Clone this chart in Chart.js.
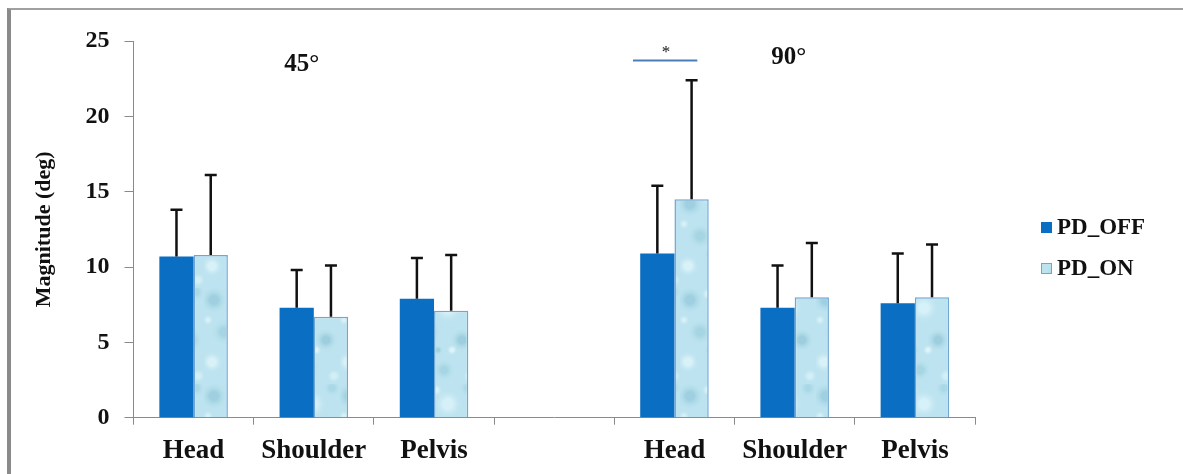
<!DOCTYPE html>
<html>
<head>
<meta charset="UTF-8">
<title>Magnitude (deg)</title>
<script src="https://cdn.jsdelivr.net/npm/chart.js@4"></script>
<style>
  html, body { margin: 0; padding: 0; background: #fff; }
  #wrap { position: relative; width: 1183px; height: 474px; overflow: hidden; }
  #frame { position: absolute; left: 7px; top: 8px; right: -10px; bottom: -10px;
           border-left: 4px solid #8a8a8a; border-top: 2px solid #a0a0a0; }
  #chart { position: absolute; left: 0; top: 0; }
</style>
</head>
<body>
<div id="wrap">
  <div id="frame"></div>
  <canvas id="chart" width="1183" height="474"></canvas>
</div>
<script>
// groups: 45° (first three) and 90° (last three), with an empty slot between
const categories = ['Head', 'Shoulder', 'Pelvis', '', 'Head', 'Shoulder', 'Pelvis'];
const pdOff = [10.7, 7.3, 7.9, null, 10.9, 7.3, 7.6];
const pdOn  = [10.8, 6.7, 7.1, null, 14.5, 8.0, 8.0];
const sdOff = [3.1, 2.5, 2.7, null, 4.5, 2.8, 3.3];
const sdOn  = [5.3, 3.4, 3.7, null, 7.9, 3.6, 3.5];
const yMin = 0, yMax = 25, yStep = 5;

const SERIF = "'Liberation Serif', 'Times New Roman', serif";
const offColor = '#0a6fc2';
const onBorder = '#6fa6d4';

// light blue "water droplet" fill for the PD_ON bars
function makeWaterPattern() {
  const c = document.createElement('canvas');
  c.width = 68; c.height = 96;
  const g = c.getContext('2d');
  g.fillStyle = '#bce3ef';
  g.fillRect(0, 0, c.width, c.height);
  const blobs = [
    [10, 12, 14, 'rgba(135,192,212,0.55)'], [40, 20, 16, 'rgba(222,245,251,0.75)'],
    [20, 44, 13, 'rgba(145,198,216,0.5)'], [54, 52, 12, 'rgba(128,186,206,0.5)'],
    [8, 74, 12, 'rgba(226,246,251,0.75)'], [36, 82, 11, 'rgba(140,196,214,0.45)'],
    [60, 4, 9, 'rgba(148,202,220,0.45)'], [28, 6, 7, 'rgba(230,248,252,0.7)'],
    [62, 88, 8, 'rgba(220,244,250,0.7)'], [44, 62, 6, 'rgba(235,250,253,0.7)'],
    [4, 32, 6, 'rgba(230,248,252,0.6)'], [30, 62, 5, 'rgba(120,180,200,0.4)']
  ];
  blobs.forEach(([x, y, r, col]) => {
    const rg = g.createRadialGradient(x, y, r * 0.3, x, y, r);
    rg.addColorStop(0, col);
    rg.addColorStop(1, 'rgba(188,227,239,0)');
    g.fillStyle = rg;
    g.beginPath(); g.arc(x, y, r, 0, Math.PI * 2); g.fill();
  });
  return g.createPattern(c, 'repeat');
}

const ctx = document.getElementById('chart').getContext('2d');
const onFill = makeWaterPattern();

// upper error whiskers
const errorBars = {
  id: 'errorBars',
  afterDatasetsDraw(chart) {
    const c = chart.ctx;
    const y = chart.scales.y;
    const sds = [sdOff, sdOn];
    c.save();
    c.strokeStyle = '#111';
    c.lineWidth = 2.5;
    chart.data.datasets.forEach((ds, di) => {
      chart.getDatasetMeta(di).data.forEach((bar, i) => {
        const v = ds.data[i], sd = sds[di][i];
        if (v == null || sd == null) return;
        const top = y.getPixelForValue(v + sd);
        const base = y.getPixelForValue(v);
        c.beginPath();
        c.moveTo(bar.x, base); c.lineTo(bar.x, top);
        c.moveTo(bar.x - 6, top); c.lineTo(bar.x + 6, top);
        c.stroke();
      });
    });
    c.restore();
  }
};

// group headings, significance marker and legend
const annotations = {
  id: 'annotations',
  afterDraw(chart) {
    const c = chart.ctx;
    const x = chart.scales.x, y = chart.scales.y;
    c.save();
    c.fillStyle = '#111';
    c.textAlign = 'center';
    c.textBaseline = 'alphabetic';
    c.font = 'bold 25px ' + SERIF;
    c.fillText('45°', x.getPixelForValue(0.9), y.getPixelForValue(23.0));
    c.fillText('90°', x.getPixelForValue(4.95), y.getPixelForValue(23.5));

    c.strokeStyle = '#4a7ebb';
    c.lineWidth = 2;
    c.beginPath();
    c.moveTo(x.getPixelForValue(3.655), y.getPixelForValue(23.7));
    c.lineTo(x.getPixelForValue(4.19), y.getPixelForValue(23.7));
    c.stroke();
    c.font = '17px ' + SERIF;
    c.textBaseline = 'middle';
    c.fillText('*', x.getPixelForValue(3.93), y.getPixelForValue(24.25));

    // legend
    c.textAlign = 'left';
    c.font = 'bold 23px ' + SERIF;
    chart.data.datasets.forEach((ds, i) => {
      const cy = 227 + i * 41;
      c.fillStyle = ds.backgroundColor;
      c.fillRect(1041, cy - 5, 11, 11);
      if (ds.borderWidth) {
        c.strokeStyle = ds.borderColor;
        c.lineWidth = 1;
        c.strokeRect(1041.5, cy - 4.5, 10, 10);
      }
      c.fillStyle = '#111';
      c.fillText(ds.label, 1057, cy + 1);
    });
    c.restore();
  }
};

new Chart(ctx, {
  type: 'bar',
  data: {
    labels: categories,
    datasets: [
      { label: 'PD_OFF', data: pdOff, backgroundColor: offColor, borderWidth: 0 },
      { label: 'PD_ON', data: pdOn, backgroundColor: onFill, borderColor: onBorder, borderWidth: 1.5 }
    ]
  },
  options: {
    responsive: false,
    animation: false,
    events: [],
    layout: { padding: { left: 0, right: 208, top: 41, bottom: 0 } },
    datasets: { bar: { categoryPercentage: 0.57, barPercentage: 1.0 } },
    plugins: { legend: { display: false }, tooltip: { enabled: false } },
    scales: {
      x: {
        grid: { display: true, drawOnChartArea: false, offset: true, tickLength: 7, color: '#8a8a8a' },
        border: { color: '#8a8a8a', width: 1 },
        ticks: { color: '#111', padding: 10, font: { family: SERIF, size: 27, weight: 'bold' } },
        afterFit(s) { s.height = 56.3; }
      },
      y: {
        min: yMin, max: yMax,
        grid: { display: true, drawOnChartArea: false, tickLength: 9, color: '#8a8a8a' },
        border: { color: '#8a8a8a', width: 1 },
        ticks: { stepSize: yStep, color: '#111', padding: 15, font: { family: SERIF, size: 24, weight: 'bold' } },
        title: {
          display: true, text: 'Magnitude (deg)', color: '#111',
          font: { family: SERIF, size: 22, weight: 'bold' },
          padding: { top: 31, bottom: 0 }
        },
        afterFit(s) { s.width = 133.5; }
      }
    }
  },
  plugins: [errorBars, annotations]
});
</script>
</body>
</html>
